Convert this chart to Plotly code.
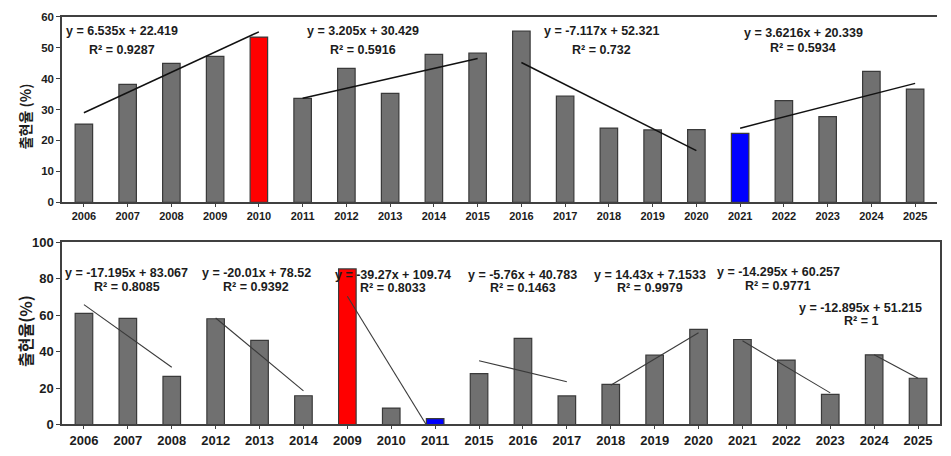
import plotly.graph_objects as go

# ---- data -------------------------------------------------------------
years_top = ["2006", "2007", "2008", "2009", "2010", "2011", "2012", "2013", "2014", "2015",
             "2016", "2017", "2018", "2019", "2020", "2021", "2022", "2023", "2024", "2025"]
rate_top = [25.3, 38.1, 44.9, 47.2, 53.4, 33.6, 43.3, 35.2, 47.8, 48.2,
            55.3, 34.3, 24.0, 23.4, 23.5, 22.3, 32.9, 27.7, 42.3, 36.6]
red_top = ["2010"]
blue_top = ["2021"]

# trend segments: first bar index, number of bars, slope, intercept, R²
seg_start_top = [0, 5, 10, 15]
seg_len_top = [5, 5, 5, 5]
slope_top = [6.535, 3.205, -7.117, 3.6216]
icpt_top = [22.419, 30.429, 52.321, 20.339]
r2_top = [0.9287, 0.5916, 0.732, 0.5934]

years_bot = ["2006", "2007", "2008", "2012", "2013", "2014", "2009", "2010", "2011", "2015",
             "2016", "2017", "2018", "2019", "2020", "2021", "2022", "2023", "2024", "2025"]
rate_bot = [61.1, 58.3, 26.4, 58.1, 46.2, 15.8, 85.5, 9.0, 3.2, 28.0,
            47.3, 15.7, 22.1, 38.1, 52.3, 46.7, 35.4, 16.5, 38.3, 25.4]
red_bot = ["2009"]
blue_bot = ["2011"]

seg_start_bot = [0, 3, 6, 9, 12, 15, 18]
seg_len_bot = [3, 3, 3, 3, 3, 3, 2]
slope_bot = [-17.195, -20.01, -39.27, -5.76, 14.43, -14.295, -12.895]
icpt_bot = [83.067, 78.52, 109.74, 40.783, 7.1533, 60.257, 51.215]
r2_bot = [0.8085, 0.9392, 0.8033, 0.1463, 0.9979, 0.9771, 1]

# ---- layout helpers ---------------------------------------------------
W, H = 951, 456
GREY = "#707070"
EDGE = "#3a3a3a"
TXT = "#1c1c1c"
FONT = "Liberation Sans, Arial, sans-serif"

# label anchor positions (x in bar-index units, y in axis units)
lab_x_top = [0.87, 6.38, 11.82, 16.44]
lab_eq_y_top = [55.3, 55.3, 55.3, 54.7]
lab_r2_y_top = [49.1, 49.1, 49.1, 50.0]

lab_x_bot = [0.98, 3.92, 7.05, 9.99, 12.89, 15.82, 17.7]
lab_eq_y_bot = [83.0, 83.0, 82.4, 82.4, 82.4, 83.6, 64.1]
lab_r2_y_bot = [75.3, 75.3, 74.9, 74.9, 74.9, 76.2, 57.1]


def bar_colors(years, red, blue):
    out = []
    for y in years:
        out.append("#ff0000" if y in red else "#0000ff" if y in blue else GREY)
    return out


def fmt_eq(m, b):
    return f"y = {m:g}x + {b:g}"


fig = go.Figure()

panels = [
    dict(years=years_top, rate=rate_top, red=red_top, blue=blue_top,
         start=seg_start_top, n=seg_len_top, m=slope_top, b=icpt_top, r2=r2_top,
         lx=lab_x_top, ley=lab_eq_y_top, lry=lab_r2_y_top,
         xa="x", ya="y", line=dict(color="#111111", width=1.5), lab_size=12.5),
    dict(years=years_bot, rate=rate_bot, red=red_bot, blue=blue_bot,
         start=seg_start_bot, n=seg_len_bot, m=slope_bot, b=icpt_bot, r2=r2_bot,
         lx=lab_x_bot, ley=lab_eq_y_bot, lry=lab_r2_y_bot,
         xa="x2", ya="y2", line=dict(color="#3a3a3a", width=1.1), lab_size=12.5),
]

annotations = []
for p in panels:
    idx = list(range(len(p["years"])))
    fig.add_trace(go.Bar(
        x=idx, y=p["rate"], width=0.4,
        marker=dict(color=bar_colors(p["years"], p["red"], p["blue"]),
                    line=dict(color=EDGE, width=1.2)),
        xaxis=p["xa"], yaxis=p["ya"], showlegend=False, hoverinfo="x+y"))
    for s, n, m, b, r2, lx, ley, lry in zip(p["start"], p["n"], p["m"], p["b"], p["r2"],
                                             p["lx"], p["ley"], p["lry"]):
        xs = [s, s + n - 1]
        ys = [m * 1 + b, m * n + b]
        fig.add_trace(go.Scatter(x=xs, y=ys, mode="lines", line=p["line"],
                                 xaxis=p["xa"], yaxis=p["ya"], showlegend=False,
                                 hoverinfo="skip"))
        for txt, ty in ((fmt_eq(m, b), ley), (f"R² = {r2:g}", lry)):
            annotations.append(dict(
                x=lx, y=ty, xref=p["xa"], yref=p["ya"], text=txt, showarrow=False,
                xanchor="center", yanchor="middle",
                font=dict(family=FONT, size=p["lab_size"], color=TXT, weight="bold")))

# y-axis titles
annotations.append(dict(x=25 / W, y=1 - 113 / H, xref="paper", yref="paper",
                        xanchor="center", yanchor="middle",
                        text="출현율 (%)", textangle=-90, showarrow=False,
                        font=dict(family="Noto Sans CJK KR", size=14, color=TXT, weight="bold")))
annotations.append(dict(x=25 / W, y=1 - 335 / H, xref="paper", yref="paper",
                        xanchor="center", yanchor="middle",
                        text="출현율(%)", textangle=-90, showarrow=False,
                        font=dict(family="Noto Sans CJK KR", size=16, color=TXT, weight="bold")))

axis_common = dict(showgrid=False, zeroline=False, linecolor="#404040", linewidth=1.5,
                   ticks="outside", tickcolor="#404040", fixedrange=True)

fig.update_layout(
    width=W, height=H, margin=dict(l=0, r=0, t=0, b=0),
    plot_bgcolor="white", paper_bgcolor="white", bargap=0.6,
    annotations=annotations,
    xaxis=dict(domain=[62 / W, 937 / W], range=[-0.5, 19.5], anchor="y",
               tickvals=list(range(20)), ticktext=years_top, showline=True, mirror=True,
               ticklen=3, tickfont=dict(family=FONT, size=11, color=TXT, weight="bold"),
               **axis_common),
    yaxis=dict(domain=[1 - 202 / H, 1 - 10 / H], range=[0, 60], dtick=10, anchor="x",
               showline=True, ticklen=4,
               tickfont=dict(family=FONT, size=11.5, color=TXT, weight="bold"),
               **axis_common),
    xaxis2=dict(domain=[62 / W, 940 / W], range=[-0.5, 19.5], anchor="y2",
                tickvals=list(range(20)), ticktext=years_bot, showline=True, mirror=True,
                ticklen=3, tickfont=dict(family=FONT, size=13, color=TXT, weight="bold"),
                **axis_common),
    yaxis2=dict(domain=[1 - 431.7 / H, 1 - 243.5 / H], range=[0, 100], dtick=20, anchor="x2",
                showline=True, mirror=True, ticklen=4,
                tickfont=dict(family=FONT, size=13, color=TXT, weight="bold"),
                **axis_common),
)

fig.write_html("out.html")
